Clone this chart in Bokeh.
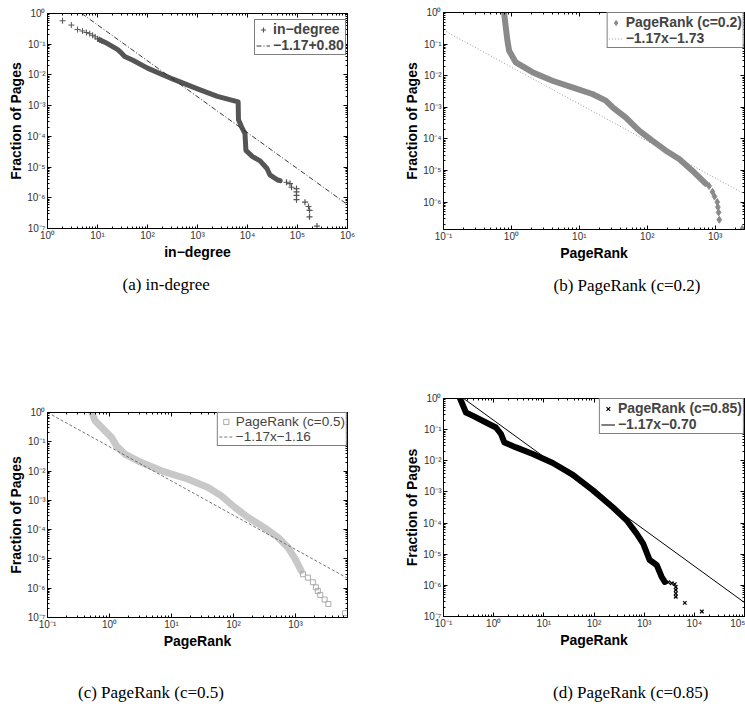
from bokeh.plotting import figure
from bokeh.models import (LogAxis, Legend, LegendItem, Title, CustomJSTickFormatter,
                          FixedTicker, Range1d, Div)
from bokeh.layouts import column, row
from bokeh.embed import file_html
from bokeh.resources import INLINE

# ---------------- data ----------------
# (a) in-degree
a_head_x = [2, 3, 4, 5, 6, 7, 8, 9, 10, 11, 12]
a_head_y = [0.58, 0.42, 0.30, 0.27, 0.24, 0.22, 0.195, 0.173, 0.15, 0.14, 0.13]
a_curve_x = [11, 15.8, 25, 30, 35, 51, 100, 316, 1000, 2500, 6500, 6600, 7600,
             8900, 9300, 12600, 17800, 24500, 28000, 40000, 45000]
a_curve_y = [0.14, 0.105, 0.068, 0.052, 0.040, 0.030, 0.0166, 0.0074, 0.0035,
             0.0020, 0.00132, 0.00035, 0.000204, 0.000123, 3.5e-5, 2.2e-5,
             1.6e-5, 9e-6, 5.6e-6, 3.8e-6, 3.6e-6]
a_tail_x = [60300, 70800, 75900, 95500, 95500, 95500, 95500, 141000, 166000,
            174000, 174000, 245000]
a_tail_y = [3.2e-6, 2.9e-6, 2.2e-6, 2.0e-6, 1.55e-6, 1.2e-6, 8.7e-7, 7.2e-7,
            5.2e-7, 3.9e-7, 2.4e-7, 1.2e-7]
a_fit_x = [4.83, 1e6]
a_fit_y = [1.0, 6.0e-7]

# (b) PageRank c=0.2
b_curve_x = [0.78, 0.826, 0.873, 0.925, 1.16, 2.04, 4.01, 7.89, 15.5, 24.5,
             30.9, 47.9, 75.9, 117, 186, 295, 457, 724]
b_curve_y = [1.0, 0.339, 0.129, 0.0617, 0.0263, 0.0129, 0.0069, 0.00427,
             0.00263, 0.00162, 0.001, 0.000479, 0.000182, 8.9e-5, 4.3e-5,
             2.3e-5, 1.0e-5, 3.8e-6]
b_tail_x = [813, 912, 977, 1072, 1096, 1122, 1148, 2500]
b_tail_y = [3.2e-6, 2.1e-6, 1.5e-6, 1.0e-6, 6.9e-7, 4.7e-7, 2.75e-7, 1.4e-7]
b_fit_x = [0.1, 2700]
b_fit_y = [0.275, 1.8e-6]

# (c) PageRank c=0.5
c_curve_x = [0.516, 0.585, 0.748, 1.08, 1.30, 1.77, 3.29, 6.90, 18.6, 38.9,
             63.1, 105, 170, 316, 525, 759, 955, 1096, 1230]
c_curve_y = [1.0, 0.525, 0.309, 0.141, 0.0724, 0.038, 0.0195, 0.0102, 0.00525,
             0.00275, 0.00145, 0.000575, 0.000263, 0.000117, 5.4e-5, 2.45e-5,
             1.12e-5, 6.6e-6, 4.0e-6]
c_tail_x = [1318, 1585, 1905, 2138, 2291, 2512, 2951, 3388, 6300]
c_tail_y = [3.0e-6, 2.3e-6, 1.6e-6, 1.07e-6, 8.1e-7, 5.9e-7, 4.1e-7, 2.9e-7, 1.4e-7]
c_fit_x = [0.1, 6900]
c_fit_y = [1.0, 2.2e-6]

# (d) PageRank c=0.85
d_curve_x = [0.214, 0.28, 0.38, 0.703, 1.11, 1.40, 1.63, 2.80, 6.03, 15.1, 38,
             95.5, 240, 447, 708, 955, 1288, 1778, 2239, 2570]
d_curve_y = [1.0, 0.355, 0.282, 0.170, 0.117, 0.0724, 0.0389, 0.0269, 0.0166,
             0.0085, 0.00355, 0.00112, 0.000316, 0.000123, 4.6e-5, 2.2e-5,
             6.5e-6, 4.5e-6, 1.86e-6, 1.29e-6]
d_tail_x = [3020, 3548, 4074, 4266, 4266, 4266, 4266, 6457, 14125]
d_tail_y = [1.26e-6, 1.17e-6, 1.1e-6, 8.9e-7, 7.1e-7, 5.5e-7, 4.3e-7, 2.75e-7, 1.45e-7]
d_fit_x = [0.252, 1e5]
d_fit_y = [1.0, 2.8e-7]

FONT = "Liberation Sans"
SERIF = "Liberation Serif"

SUP_JS = """
const m = {"-":"\u207b","0":"\u2070","1":"\u00b9","2":"\u00b2","3":"\u00b3","4":"\u2074","5":"\u2075","6":"\u2076","7":"\u2077","8":"\u2078","9":"\u2079"};
const e = Math.round(Math.log10(tick));
return "10" + String(e).split("").map(c => m[c]).join("");
"""


def decade_ticker(lo, hi):
    major = [10.0 ** k for k in range(lo, hi + 1)]
    minor = [m * 10.0 ** k for k in range(lo - 1, hi + 1) for m in range(2, 10)]
    return FixedTicker(ticks=major, minor_ticks=minor)


def panel(w, h, borders, xr, yr, xdec, ydec, xlabel, caption=None, cap_offset=0,
          cap_standoff=0):
    left, right, top, bottom = borders
    p = figure(width=w, height=h, x_axis_type="log", y_axis_type="log",
               x_range=Range1d(*xr), y_range=Range1d(*yr),
               output_backend="svg", toolbar_location=None,
               min_border_left=left, min_border_right=right,
               min_border_top=top, min_border_bottom=bottom,
               background_fill_color="white", border_fill_color="white")
    p.grid.visible = False
    p.outline_line_color = "black"
    p.outline_line_width = 1
    xt = decade_ticker(*xdec)
    yt = decade_ticker(*ydec)
    p.xaxis[0].ticker = xt
    p.yaxis[0].ticker = yt
    for ax in (p.xaxis[0], p.yaxis[0]):
        ax.major_tick_in = 4
        ax.major_tick_out = 0
        ax.minor_tick_in = 2
        ax.minor_tick_out = 0
        ax.major_tick_line_color = "black"
        ax.minor_tick_line_color = "black"
        ax.axis_line_color = "black"
        ax.formatter = CustomJSTickFormatter(code=SUP_JS)
        ax.major_label_text_font = FONT
        ax.major_label_text_font_size = "10px"
        ax.major_label_text_color = "#333333"
        ax.axis_label_text_font = FONT
        ax.axis_label_text_font_size = "14px"
        ax.axis_label_text_font_style = "bold"
        ax.axis_label_text_color = "black"
    p.xaxis[0].axis_label = xlabel
    p.xaxis[0].major_label_standoff = 1
    p.xaxis[0].axis_label_standoff = 0
    p.yaxis[0].axis_label = "Fraction of Pages"
    p.yaxis[0].major_label_standoff = 2
    p.yaxis[0].axis_label_standoff = 0
    for loc, t in (("above", xt), ("right", yt)):
        ax = LogAxis(ticker=t, formatter=CustomJSTickFormatter(code="return ''"),
                     major_label_text_font_size="0px", major_label_standoff=0,
                     major_tick_in=4, major_tick_out=0, minor_tick_in=2,
                     minor_tick_out=0, axis_line_color="black")
        p.add_layout(ax, loc)
    if caption:
        p.add_layout(Title(text=caption, align="left", offset=cap_offset,
                           standoff=cap_standoff, text_font=SERIF,
                           text_font_size="17px", text_font_style="normal",
                           text_color="black"), "below")
    return p


def caption_div(text, w, h, pad_left, pad_top):
    html = ('<div style="font-family:\'Liberation Serif\';font-size:17px;'
            'line-height:20px;color:black;white-space:nowrap;'
            f'padding-left:{pad_left}px;padding-top:{pad_top}px">{text}</div>')
    return Div(text=html, width=w, height=h, margin=0)


def legend(p, items, location, bold=True, size="14px"):
    leg = Legend(items=items, location=location, label_text_font=FONT,
                 label_text_font_size=size,
                 label_text_font_style="bold" if bold else "normal",
                 padding=1, spacing=0, margin=0, glyph_width=14, glyph_height=13,
                 label_height=13, label_standoff=3, border_line_color="black",
                 border_line_width=1, background_fill_color="white",
                 background_fill_alpha=1)
    p.add_layout(leg)


# ---------------- (a) ----------------
pa = panel(372, 330, (47, 25, 13, 102), (1, 1e6), (1e-7, 1), (0, 6), (-7, 0),
           "in\u2212degree", "(a) in-degree", 75, 20)
pa.line(a_curve_x, a_curve_y, line_width=5, line_color="#555555",
        line_cap="round", line_join="round")
ra_head = pa.scatter(a_head_x, a_head_y, marker="cross", size=6, line_color="#555555",
                     line_width=1)
ra_tail = pa.scatter(a_tail_x, a_tail_y, marker="cross", size=6, line_color="#555555",
                     line_width=1.2)
ra_fit = pa.line(a_fit_x, a_fit_y, line_color="#222222", line_width=0.9,
                 line_dash="5 2 1 2")
legend(pa, [LegendItem(label="in\u2212degree", renderers=[ra_tail]),
            LegendItem(label="\u22121.17+0.80", renderers=[ra_fit])], (207, 173))

# ---------------- (b) ----------------
pb = panel(373, 330, (71, 1, 12, 101), (0.1, 2700), (1.35e-7, 1), (-1, 3), (-6, 0),
           "PageRank", "(b) PageRank (c=0.2)", 110, 20)
pb.line(b_curve_x, b_curve_y, line_width=6, line_color="#8a8a8a",
        line_cap="round", line_join="round")
rb_tail = pb.scatter(b_tail_x, b_tail_y, marker="diamond", size=7,
                     fill_color="#8a8a8a", line_color="#8a8a8a")
rb_fit = pb.line(b_fit_x, b_fit_y, line_color="#9a9a9a", line_width=1,
                 line_dash="1 2")
legend(pb, [LegendItem(label="PageRank (c=0.2)", renderers=[rb_tail]),
            LegendItem(label="\u22121.17x\u22121.73", renderers=[rb_fit])], "top_right")

# ---------------- (c) ----------------
pc = panel(372, 345, (47, 25, 82, 58), (0.1, 6900), (1e-7, 1), (-1, 3), (-7, 0),
           "PageRank")
pc.line(c_curve_x, c_curve_y, line_width=7, line_color="#c8c8c8",
        line_cap="round", line_join="round")
rc_tail = pc.scatter(c_tail_x, c_tail_y, marker="square", size=5,
                     fill_color=None, line_color="#aaaaaa", line_width=1)
rc_fit = pc.line(c_fit_x, c_fit_y, line_color="#666666", line_width=0.9,
                 line_dash="3 2")
legend(pc, [LegendItem(label="PageRank (c=0.5)", renderers=[rc_tail]),
            LegendItem(label="\u22121.17x\u22121.16", renderers=[rc_fit])], "top_right",
       bold=False, size="13.5px")
cap_c = caption_div("(c) PageRank (c=0.5)", 372, 38, 78, 8)

# ---------------- (d) ----------------
pd = panel(373, 345, (71, 1, 68, 59), (0.1, 1e5), (1e-7, 1), (-1, 5), (-7, 0),
           "PageRank")
pd.line(d_curve_x, d_curve_y, line_width=6, line_color="black",
        line_cap="round", line_join="round")
rd_tail = pd.scatter(d_tail_x, d_tail_y, marker="x", size=5, line_color="black",
                     line_width=1.2)
rd_fit = pd.line(d_fit_x, d_fit_y, line_color="black", line_width=1)
legend(pd, [LegendItem(label="PageRank (c=0.85)", renderers=[rd_tail]),
            LegendItem(label="\u22121.17x\u22120.70", renderers=[rd_fit])], "top_right")
cap_d = caption_div("(d) PageRank (c=0.85)", 373, 38, 181, 8)

layout = row(column(pa, pc, cap_c), column(pb, pd, cap_d))
open("out.html", "w").write(file_html(layout, INLINE))
